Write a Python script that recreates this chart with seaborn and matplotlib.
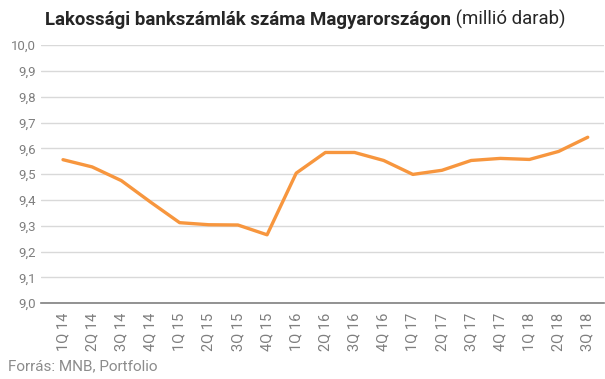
import pandas as pd
import matplotlib.pyplot as plt
import matplotlib.ticker as mticker
import seaborn as sns

# Data
quarters = ["1Q 14", "2Q 14", "3Q 14", "4Q 14", "1Q 15", "2Q 15", "3Q 15", "4Q 15",
            "1Q 16", "2Q 16", "3Q 16", "4Q 16", "1Q 17", "2Q 17", "3Q 17", "4Q 17",
            "1Q 18", "2Q 18", "3Q 18"]
accounts = [9.556, 9.528, 9.475, 9.392, 9.312, 9.304, 9.303, 9.265,
            9.504, 9.584, 9.584, 9.553, 9.499, 9.515, 9.553, 9.561,
            9.557, 9.588, 9.643]

sns.set_theme(style="white")
plt.rcParams["font.family"] = ["Roboto", "DejaVu Sans"]

df = pd.DataFrame({"quarter": quarters, "value": accounts})
df["pos"] = range(len(df))

fig = plt.figure(figsize=(6.05, 3.79), dpi=100)
ax = fig.add_axes([0.068, 0.2, 0.93, 0.681])

sns.lineplot(data=df, x="pos", y="value", ax=ax, color="#F7963E", linewidth=2.4)

ax.set_ylim(9.0, 10.0)
ax.set_xlim(-0.75, len(df) - 0.45)
ax.yaxis.set_major_locator(mticker.MultipleLocator(0.1))
ax.yaxis.set_major_formatter(mticker.FuncFormatter(lambda v, _: f"{v:.1f}".replace(".", ",")))
ax.set_xticks(df["pos"])
ax.set_xticklabels(df["quarter"], rotation=90)
ax.tick_params(axis="both", colors="#7f7f7f", labelsize=9.5, length=0, pad=4)
ax.tick_params(axis="x", pad=7, labelsize=10.5)
ax.grid(axis="y", color="#d9d9d9", linewidth=1)
ax.set_axisbelow(True)
for s in ["top", "right", "left"]:
    ax.spines[s].set_visible(False)
ax.spines["bottom"].set_color("#7f7f7f")
ax.spines["bottom"].set_linewidth(1.2)
ax.set_xlabel("")
ax.set_ylabel("")

# Title: bold part + normal part
t1 = fig.text(0.074, 0.935, "Lakossági bankszámlák száma Magyarországon",
              fontsize=13.4, fontweight="bold", color="#262626", va="baseline")
fig.canvas.draw()
ax.annotate(" (millió darab)", xy=(1, 0), xycoords=t1, va="bottom",
            fontsize=13.4, color="#262626")

fig.text(0.013, 0.022, "Forrás: MNB, Portfolio", fontsize=11, color="#8c8c8c")

plt.savefig("out.png", dpi=100)
plt.close()
